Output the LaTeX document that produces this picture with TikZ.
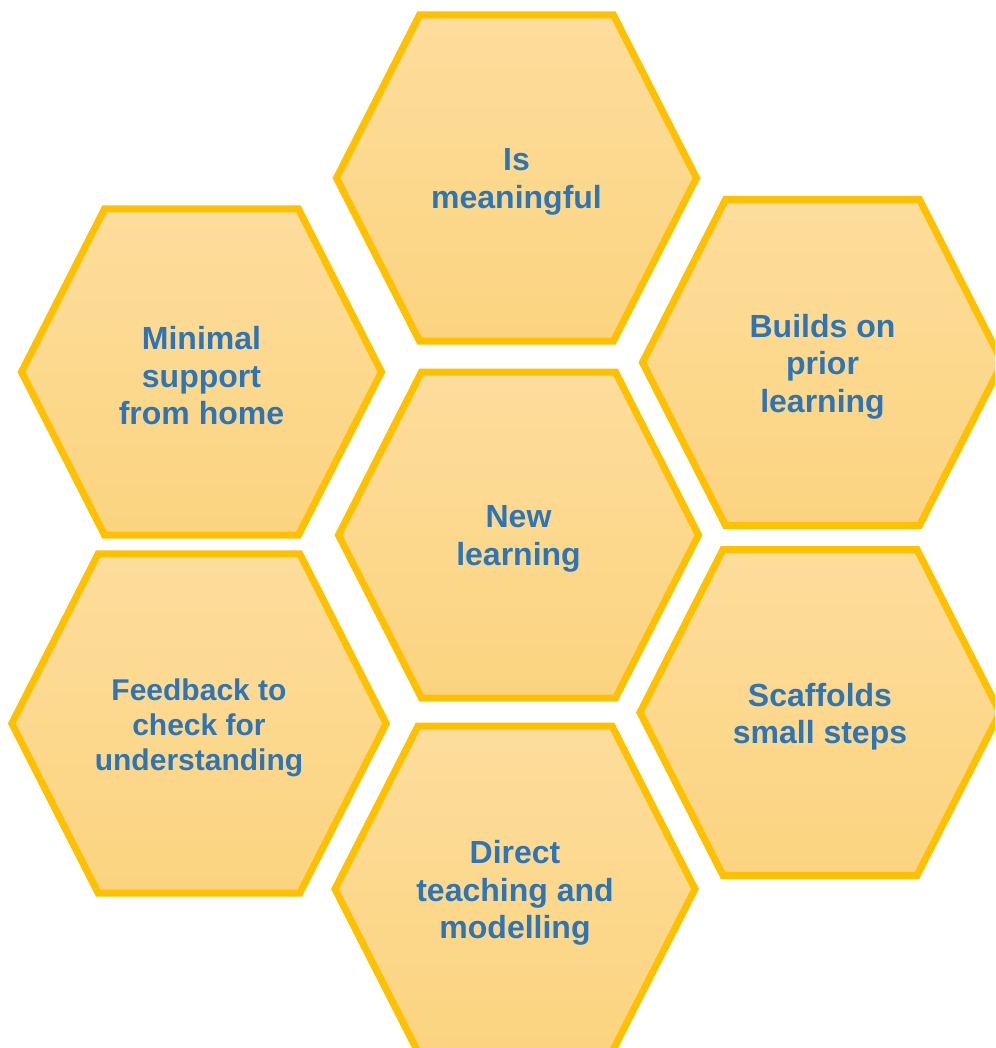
\documentclass[tikz,border=0pt]{standalone}
\usepackage{fontspec}
\setmainfont{Liberation Sans}
\usepackage{tikz}
\usetikzlibrary{calc}
\definecolor{cellline}{HTML}{FFC000}
\definecolor{celltop}{HTML}{FDDD9C}
\definecolor{cellbottom}{HTML}{FCD480}
\definecolor{cellblue}{HTML}{2E75B6}
\newcommand{\cellw}{180}
\newcommand{\cellt}{97}
\newcommand{\cellh}{163}
\tikzset{
    cell/.style={draw=cellline, line width=7pt, line join=miter,
        top color=celltop, bottom color=cellbottom},
    celltext/.style={text=cellblue, align=center, yshift=-4pt,
        font=\bfseries\fontsize{32}{37.5}\selectfont},
    honeycomb cell/.pic={
            \path [cell]
            (-\cellw,0) -- (-\cellt,-\cellh) -- (\cellt,-\cellh)
            -- (\cellw,0) -- (\cellt,\cellh) -- (-\cellt,\cellh) -- cycle;
        },
}
\begin{document}
\begin{tikzpicture}[x=1pt,y=-1pt]

            \useasboundingbox (0,0) rectangle (995,1048);
            \clip (0,0) rectangle (995,1048);

            \coordinate (C1) at (516.5,178);
            \coordinate (C2) at (518.5,535);
            \coordinate (C3) at (201.5,372);
            \coordinate (C4) at (822.5,362.5);
            \coordinate (C5) at (199,723.5);
            \coordinate (C6) at (820,712.5);
            \coordinate (C7) at (515,889);

            \pic at (C1) {honeycomb cell};
            \pic at (C2) {honeycomb cell};
            \pic at (C3) {honeycomb cell};
            \pic at (C4) {honeycomb cell};
            \pic [scale=1.04] at (C5) {honeycomb cell};
            \pic at (C6) {honeycomb cell};
            \pic at (C7) {honeycomb cell};

            \node [celltext] (meaningful) at (C1) {Is\\meaningful};
            \node [celltext] (newlearning) at (C2) {New\\learning};
            \node [celltext] (support) at (C3) {Minimal\\support\\from home};
            \node [celltext] (prior) at (C4) {Builds on\\prior\\learning};
            \node [celltext, font=\bfseries\fontsize{30}{35}\selectfont] (feedback) at (C5) {Feedback to\\check for\\understanding};
            \node [celltext] (scaffolds) at (C6) {Scaffolds\\small steps};
            \node [celltext] (direct) at (C7) {Direct\\teaching and\\modelling};
        \end{tikzpicture}
\end{document}
